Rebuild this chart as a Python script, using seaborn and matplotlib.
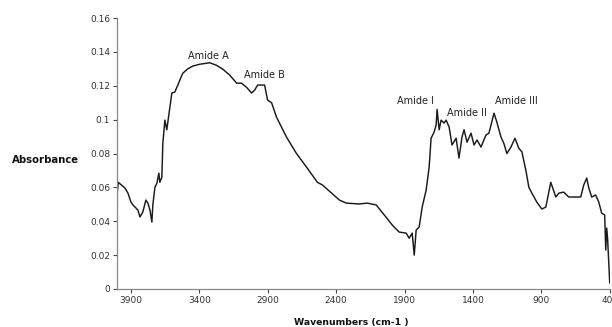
import matplotlib
matplotlib.use("Agg")
import matplotlib.pyplot as plt
import seaborn as sns
import pandas as pd

wavenumber = [4000, 4000, 3993, 3944, 3922, 3900, 3885, 3849, 3834, 3813, 3791, 3776, 3761,
              3747, 3740, 3725, 3710, 3696, 3689, 3674, 3667, 3652, 3638, 3616, 3601,
              3579, 3565, 3557, 3543, 3521, 3484, 3448, 3397, 3324, 3273, 3229, 3178,
              3127, 3091, 3054, 3018, 2996, 2974, 2923, 2901, 2872, 2836, 2763, 2690,
              2617, 2537, 2500, 2376, 2325, 2231, 2172, 2107, 2048, 1990, 1939, 1888,
              1866, 1844, 1829, 1815, 1793, 1771, 1742, 1720, 1706, 1684, 1669, 1662,
              1647, 1633, 1611, 1596, 1574, 1553, 1523, 1502, 1480, 1465, 1443, 1414,
              1392, 1370, 1341, 1305, 1283, 1246, 1225, 1195, 1174, 1152, 1122, 1093,
              1064, 1042, 1013, 991, 969, 933, 896, 867, 831, 794, 772, 736, 700, 649,
              612, 590, 568, 554, 532, 503, 480, 459, 437, 429, 422, 415, 400]
absorbance = [0.047, 0.0673, 0.063, 0.0596, 0.0566, 0.0513, 0.0496, 0.0466, 0.0425, 0.0455,
              0.0525, 0.0507, 0.0466, 0.0395, 0.0496, 0.060, 0.0625, 0.0684, 0.063, 0.066,
              0.086, 0.0997, 0.094, 0.107, 0.1157, 0.1163, 0.119, 0.1204, 0.1233, 0.1274,
              0.130, 0.1316, 0.1327, 0.1336, 0.132, 0.1298, 0.1263, 0.1215, 0.1215, 0.119,
              0.1157, 0.1174, 0.1204, 0.1204, 0.1115, 0.110, 0.1015, 0.0897, 0.080, 0.072,
              0.063, 0.0614, 0.0525, 0.0507, 0.0502, 0.0507, 0.0496, 0.0437, 0.0378, 0.0336,
              0.033, 0.030, 0.033, 0.020, 0.0348, 0.0366, 0.0484, 0.0584, 0.072, 0.089,
              0.0926, 0.0968, 0.106, 0.094, 0.0997, 0.098, 0.0997, 0.0956, 0.085, 0.089,
              0.0773, 0.0897, 0.094, 0.0867, 0.092, 0.085, 0.088, 0.0838, 0.0909, 0.092,
              0.1038, 0.0985, 0.0897, 0.086, 0.080, 0.0838, 0.089, 0.083, 0.081, 0.070,
              0.060, 0.0566, 0.0513, 0.0472, 0.0484, 0.063, 0.0543, 0.0566, 0.0572, 0.0543,
              0.0543, 0.0543, 0.0614, 0.0655, 0.060, 0.0543, 0.0555, 0.0513, 0.0448, 0.0437,
              0.023, 0.036, 0.029, 0.0035]

x_ticks = [3900, 3400, 2900, 2400, 1900, 1400, 900, 400]
y_ticks = [0, 0.02, 0.04, 0.06, 0.08, 0.1, 0.12, 0.14, 0.16]
y_tick_labels = ["0", "0.02", "0.04", "0.06", "0.08", "0.1", "0.12", "0.14", "0.16"]

band_labels = ["Amide A", "Amide B", "Amide I", "Amide II", "Amide III"]
band_x = [3331, 2923, 1822, 1443, 1086]
band_y = [0.1375, 0.1265, 0.1110, 0.1040, 0.1110]

sns.set_style("white")
plt.rcParams['font.family'] = ['DejaVu Sans']

df = pd.DataFrame({"wn": wavenumber, "abs": absorbance})

fig = plt.figure(figsize=(6.12, 3.27), dpi=100)
ax = fig.add_axes([117/612, 1 - 289/327, (610-117)/612, (289-18)/327])
sns.lineplot(data=df, x="wn", y="abs", sort=False, color="#1a1a1a", linewidth=1.05, ax=ax)

ax.set_xlim(4002, 398)
ax.set_ylim(0, 0.16)
ax.set_xticks(x_ticks)
ax.set_xticklabels([str(t) for t in x_ticks])
ax.set_yticks(y_ticks)
ax.set_yticklabels(y_tick_labels)
ax.tick_params(axis="both", labelsize=6.5, colors="#444444", length=3, width=0.8,
               direction="out", bottom=True, left=True, pad=2)
for lbl in ax.get_xticklabels() + ax.get_yticklabels():
    lbl.set_color("#333333")
for s in ["top", "right"]:
    ax.spines[s].set_visible(False)
for s in ["left", "bottom"]:
    ax.spines[s].set_color("#888888")
    ax.spines[s].set_linewidth(0.9)

ax.set_xlabel("")
ax.set_ylabel("")
fig.text(45/612, 1 - 160/327, "Absorbance", ha="center", va="center",
         fontsize=7.3, fontweight="bold", color="#111111")
fig.text(351/612, 1 - 322/327, "Wavenumbers (cm-1 )", ha="center", va="center",
         fontsize=6.7, fontweight="bold", color="#111111")

for t, xv, yv in zip(band_labels, band_x, band_y):
    ax.text(xv, yv, t, ha="center", va="center", fontsize=7, color="#222222")

fig.savefig("out.png", dpi=100)
